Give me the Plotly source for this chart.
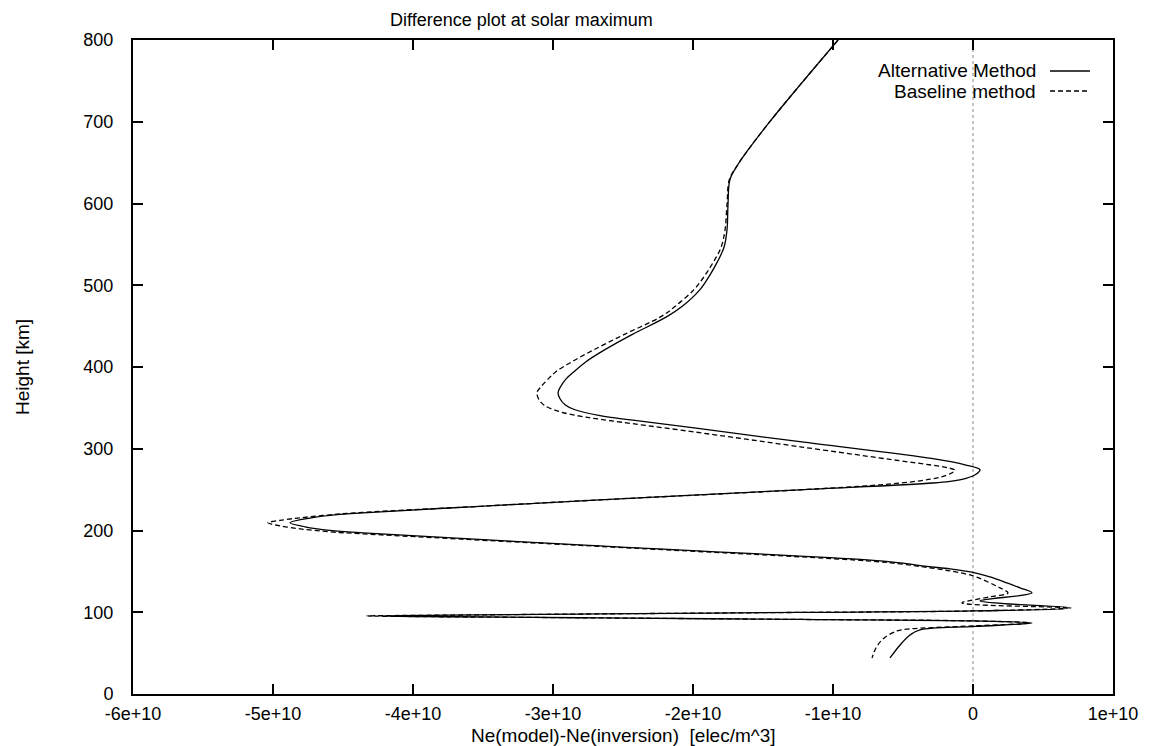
import plotly.graph_objects as go

# Alternative method (solid): height [km] and Ne(model)-Ne(inversion) [elec/m^3]
alt_h = [800, 745.7, 700.4, 666.1, 647.7, 629.4, 598.8, 568.1, 546.1, 527.7, 510.6, 494.7,
         473.9, 461.6, 439.6, 421.2, 406.5, 394.3, 384.5, 375.9, 368.6, 361.2, 353.9, 347.7,
         340.4, 334.9, 324.5, 308.6, 287.8, 280.4, 274.3, 268.8, 263.9, 260.2, 258.1, 249.8,
         237.5, 229.6, 221.6, 218.6, 214.3, 209.4, 204.5, 200.2, 197.1, 182.4, 164.1, 160.4,
         156.1, 153.1, 148.8, 143.3, 135.9, 129.8, 123.7, 113.9, 105.3, 101.6, 99.8, 98.0,
         96.4, 95.5, 94.5, 93.1, 91.2, 89.4, 86.9, 82.6, 78.4, 72.2, 60.0, 44.1]
alt_ne = [-0.964e10, -1.232e10, -1.450e10, -1.604e10, -1.679e10, -1.736e10, -1.750e10,
          -1.757e10, -1.779e10, -1.829e10, -1.886e10, -1.950e10, -2.079e10, -2.186e10,
          -2.436e10, -2.629e10, -2.764e10, -2.850e10, -2.911e10, -2.946e10, -2.964e10,
          -2.950e10, -2.914e10, -2.843e10, -2.664e10, -2.429e10, -1.950e10, -1.236e10,
          -0.286e10, -0.057e10, 0.050e10, 0.021e10, -0.050e10, -0.164e10, -0.286e10,
          -1.236e10, -2.664e10, -3.521e10, -4.357e10, -4.593e10, -4.771e10, -4.879e10,
          -4.771e10, -4.593e10, -4.357e10, -2.807e10, -0.757e10, -0.521e10, -0.329e10,
          -0.164e10, 0.0, 0.121e10, 0.243e10, 0.336e10, 0.421e10, 0.050e10, 0.700e10, 0.0,
          -1.236e10, -2.664e10, -3.736e10, -4.236e10, -3.736e10, -2.664e10, -1.236e10, 0.0,
          0.421e10, 0.014e10, -0.379e10, -0.450e10, -0.521e10, -0.593e10]

# Baseline method (dashed)
base_h = [800, 745.7, 700.4, 666.1, 647.7, 629.4, 598.8, 568.1, 546.1, 527.7, 510.6, 494.7,
          473.9, 461.6, 439.6, 421.2, 406.5, 394.3, 384.5, 375.9, 368.6, 360.0, 352.6, 345.3,
          339.8, 336.1, 319.6, 302.4, 285.3, 279.8, 276.7, 273.7, 269.4, 265.1, 260.8, 255.9,
          249.8, 237.5, 229.6, 222.2, 219.2, 215.5, 212.4, 209.4, 205.7, 202.0, 198.4, 195.9,
          181.8, 162.9, 159.2, 154.9, 150.6, 144.5, 135.9, 129.8, 123.7, 118.8, 111.4, 105.3,
          101.6, 99.8, 98.0, 96.5, 95.5, 94.4, 93.1, 91.2, 89.4, 86.9, 82.6, 79.6, 77.1, 67.3,
          56.3, 44.1]
base_ne = [-0.964e10, -1.232e10, -1.450e10, -1.604e10, -1.679e10, -1.740e10, -1.757e10,
           -1.771e10, -1.800e10, -1.857e10, -1.921e10, -1.993e10, -2.129e10, -2.229e10,
           -2.493e10, -2.707e10, -2.864e10, -2.979e10, -3.039e10, -3.086e10, -3.114e10,
           -3.100e10, -3.057e10, -2.950e10, -2.807e10, -2.664e10, -1.950e10, -1.236e10,
           -0.521e10, -0.286e10, -0.179e10, -0.129e10, -0.164e10, -0.236e10, -0.379e10,
           -0.664e10, -1.236e10, -2.664e10, -3.521e10, -4.357e10, -4.593e10, -4.807e10,
           -4.950e10, -5.036e10, -4.950e10, -4.807e10, -4.593e10, -4.357e10, -2.807e10,
           -0.757e10, -0.521e10, -0.329e10, -0.164e10, 0.0, 0.121e10, 0.193e10, 0.250e10,
           0.121e10, -0.079e10, 0.671e10, 0.0, -1.236e10, -2.664e10, -3.736e10, -4.329e10,
           -3.736e10, -2.664e10, -1.236e10, 0.0, 0.407e10, -0.093e10, -0.450e10, -0.543e10,
           -0.643e10, -0.693e10, -0.721e10]

xtick_vals = [-6e10, -5e10, -4e10, -3e10, -2e10, -1e10, 0, 1e10]
xtick_text = ["-6e+10", "-5e+10", "-4e+10", "-3e+10", "-2e+10", "-1e+10", "0", "1e+10"]
ytick_vals = [0, 100, 200, 300, 400, 500, 600, 700, 800]

FONT = "Liberation Sans, Arial, sans-serif"

fig = go.Figure()
fig.add_trace(go.Scatter(x=alt_ne, y=alt_h, mode="lines", name="Alternative Method",
                         line=dict(color="black", width=1.3, shape="spline", smoothing=1.0)))
fig.add_trace(go.Scatter(x=base_ne, y=base_h, mode="lines", name="Baseline method",
                         line=dict(color="black", width=1.3, dash="5px,3px",
                                   shape="spline", smoothing=1.0)))

axis_common = dict(showline=True, linewidth=2, linecolor="black", mirror="allticks",
                   ticks="inside", ticklen=10, tickwidth=1.5, tickcolor="black",
                   showgrid=False, zeroline=False,
                   tickfont=dict(family=FONT, size=18, color="black"))

fig.update_layout(
    width=1152, height=746,
    margin=dict(l=133, r=39, t=40, b=52),
    paper_bgcolor="white", plot_bgcolor="white",
    showlegend=False,
    xaxis=dict(range=[-6e10, 1e10], tickvals=xtick_vals, ticktext=xtick_text,
               ticklabelstandoff=2, **axis_common),
    yaxis=dict(range=[0, 800], tickvals=ytick_vals, ticklabelstandoff=14, **axis_common),
    font=dict(family=FONT, size=19, color="black"),
)

fig.add_shape(type="line", xref="x", yref="paper", x0=0, x1=0, y0=0, y1=1,
              line=dict(color="#888888", width=1, dash="dot"), layer="below")

annotations = [
    dict(text="Difference plot at solar maximum", xref="paper", yref="paper",
         x=0.2602, y=1.0306, xanchor="left", yanchor="middle", showarrow=False,
         font=dict(family=FONT, size=18)),
    dict(text="Ne(model)-Ne(inversion)  [elec/m^3]", xref="paper", yref="paper",
         x=0.5, y=-0.0635, xanchor="center", yanchor="middle", showarrow=False,
         font=dict(family=FONT, size=19)),
    dict(text="Height [km]", xref="paper", yref="paper", x=-0.1133, y=0.5,
         xanchor="center", yanchor="middle", textangle=-90, showarrow=False,
         font=dict(family=FONT, size=19)),
    dict(text="Alternative Method", xref="paper", yref="paper", x=0.9235, y=0.9526,
         xanchor="right", yanchor="middle", showarrow=False, font=dict(family=FONT, size=19)),
    dict(text="Baseline method", xref="paper", yref="paper", x=0.9235, y=0.922,
         xanchor="right", yanchor="middle", showarrow=False, font=dict(family=FONT, size=19)),
]
fig.update_layout(annotations=annotations)

fig.add_shape(type="line", xref="paper", yref="paper", x0=0.9357, x1=0.9765,
              y0=0.9526, y1=0.9526, line=dict(color="black", width=1.3))
fig.add_shape(type="line", xref="paper", yref="paper", x0=0.9357, x1=0.9765,
              y0=0.922, y1=0.922, line=dict(color="black", width=1.3, dash="5px,3px"))

fig.write_html("out.html", config={"displayModeBar": False})
